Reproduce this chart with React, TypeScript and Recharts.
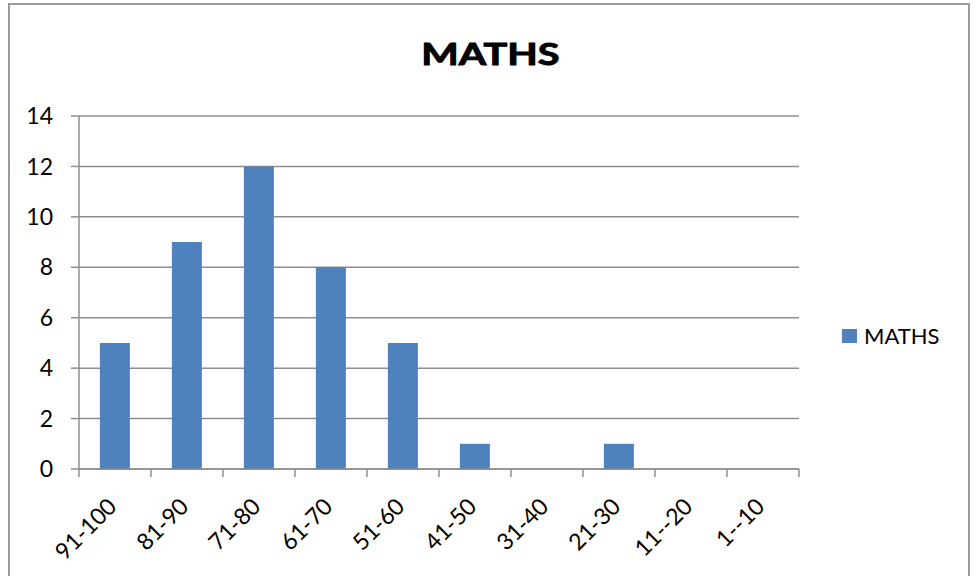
import { BarChart, Bar, XAxis, YAxis, CartesianGrid, Legend } from 'recharts';

const categories = ['91-100', '81-90', '71-80', '61-70', '51-60', '41-50', '31-40', '21-30', '11--20', '1--10'];
const mathsValues = [5, 9, 12, 8, 5, 1, 0, 1, 0, 0];
const yTicks = [0, 2, 4, 6, 8, 10, 12, 14];

const data = categories.map((range, i) => ({ range, MATHS: mathsValues[i] }));

const BLUE = '#4f81bd';
const GRID = '#8e8e8e';
const FONT = 'Lato, "Liberation Sans", sans-serif';
const HALF_BAND = 36;

function XTick(props: any) {
  const { x, y, payload, index } = props;
  const last = index === categories.length - 1;
  const tx = x + 3;
  const ty = y + 39;
  return (
    <g>
      <line x1={x - HALF_BAND} y1={y} x2={x - HALF_BAND} y2={y + 8} stroke={GRID} strokeWidth={1.5} />
      {last && <line x1={x + HALF_BAND} y1={y} x2={x + HALF_BAND} y2={y + 8} stroke={GRID} strokeWidth={1.5} />}
      <text
        x={tx}
        y={ty}
        textAnchor="end"
        transform={`rotate(-45, ${tx}, ${ty})`}
        fontSize={23}
        fontFamily={FONT}
        fill="#000"
      >
        {payload.value}
      </text>
    </g>
  );
}

function LegendBox() {
  return (
    <div style={{ display: 'flex', alignItems: 'center', fontFamily: FONT, fontSize: 22, color: '#000' }}>
      <span style={{ display: 'inline-block', width: 15, height: 14, background: BLUE, marginRight: 7 }} />
      <span>MATHS</span>
    </div>
  );
}

export default function App() {
  return (
    <div style={{ position: 'absolute', left: 0, top: 0, width: 977, height: 576, overflow: 'hidden', background: '#fff' }}>
      <div
        style={{
          position: 'absolute',
          left: 8,
          top: 3,
          width: 958,
          height: 640,
          border: '2px solid #9c9c9c',
        }}
      />
      <div
        style={{
          position: 'absolute',
          left: 10,
          width: 960,
          top: 31,
          textAlign: 'center',
          fontFamily: FONT,
          fontWeight: 700,
          fontSize: 30,
          lineHeight: '44px',
        }}
      >
        <span style={{ display: 'inline-block', transform: 'scaleX(1.32)', WebkitTextStroke: '0.9px #000' }}>MATHS</span>
      </div>
      <div style={{ position: 'absolute', left: 0, top: 0 }}>
        <BarChart
          width={977}
          height={576}
          data={data}
          margin={{ top: 116, right: 178, bottom: 0, left: 0 }}
          barCategoryGap="29%"
        >
          <CartesianGrid vertical={false} stroke={GRID} strokeWidth={1.5} />
          <XAxis
            dataKey="range"
            height={107}
            interval={0}
            tickLine={false}
            tickSize={0}
            tickMargin={0}
            axisLine={{ stroke: GRID, strokeWidth: 1.5 }}
            tick={<XTick />}
          />
          <YAxis
            width={79}
            domain={[0, 14]}
            ticks={yTicks}
            interval={0}
            tickSize={8}
            tickMargin={18}
            axisLine={{ stroke: GRID, strokeWidth: 1.5 }}
            tickLine={{ stroke: GRID, strokeWidth: 1.5 }}
            tick={{ fontSize: 23, fontFamily: FONT, fill: '#000' }}
          />
          <Legend
            layout="vertical"
            align="center"
            verticalAlign="middle"
            content={<LegendBox />}
            wrapperStyle={{ left: 842, top: 322, width: 110 }}
          />
          <Bar dataKey="MATHS" fill={BLUE} isAnimationActive={false} />
        </BarChart>
      </div>
    </div>
  );
}
